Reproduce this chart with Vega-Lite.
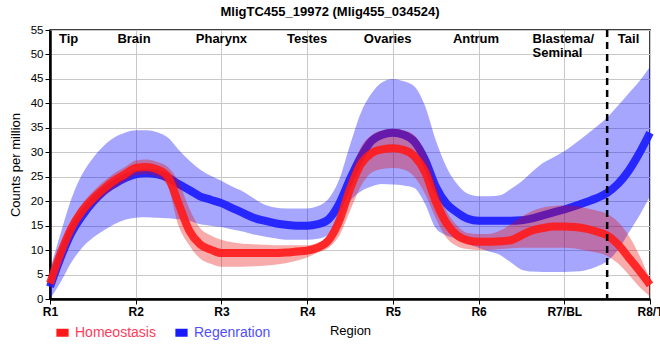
{
  "$schema": "https://vega.github.io/schema/vega-lite/v6.json",
  "width": 600,
  "height": 269,
  "autosize": "none",
  "padding": {"left": 50, "top": 30, "right": 10, "bottom": 61},
  "background": "white",
  "config": {
    "font": "Liberation Sans",
    "view": {"stroke": "black", "strokeWidth": 1.5},
    "axis": {"gridColor": "#c8c8c8", "gridWidth": 1, "domainColor": "black", "domainWidth": 2.5, "tickColor": "black", "labelColor": "black", "titleColor": "black", "titleFontSize": 13, "titleFontWeight": "normal", "tickSize": 5},
    "axisY": {"tickCount": 11, "labelFontSize": 11.5, "titlePadding": 8},
    "axisX": {"labelFontSize": 12, "labelFontWeight": "bold", "titlePadding": 7, "labelPadding": 2},
    "legend": {"labelFontSize": 14}
  },
  "title": {"text": "MligTC455_19972 (Mlig455_034524)", "fontSize": 13, "fontWeight": "bold", "color": "black", "dx": -20, "offset": 5},
  "datasets": {
    "curves": [
      {"pos": 1.0, "group": "Regenration", "mean": 2.5, "lo": 0, "hi": 6},
      {"pos": 1.125, "group": "Regenration", "mean": 8.5, "lo": 3.5, "hi": 13.5},
      {"pos": 1.25, "group": "Regenration", "mean": 13.5, "lo": 7.5, "hi": 20.5},
      {"pos": 1.375, "group": "Regenration", "mean": 17, "lo": 10.5, "hi": 25.5},
      {"pos": 1.5, "group": "Regenration", "mean": 19.8, "lo": 12.5, "hi": 28.8},
      {"pos": 1.625, "group": "Regenration", "mean": 22, "lo": 14, "hi": 31.3},
      {"pos": 1.75, "group": "Regenration", "mean": 23.5, "lo": 15.3, "hi": 33},
      {"pos": 1.875, "group": "Regenration", "mean": 24.7, "lo": 16.2, "hi": 34},
      {"pos": 2.0, "group": "Regenration", "mean": 25.5, "lo": 16.6, "hi": 34.5},
      {"pos": 2.125, "group": "Regenration", "mean": 25.7, "lo": 16.7, "hi": 34.5},
      {"pos": 2.25, "group": "Regenration", "mean": 25.5, "lo": 16.6, "hi": 34.1},
      {"pos": 2.375, "group": "Regenration", "mean": 24.8, "lo": 16.5, "hi": 33},
      {"pos": 2.5, "group": "Regenration", "mean": 23.5, "lo": 16.3, "hi": 30.5},
      {"pos": 2.625, "group": "Regenration", "mean": 22.3, "lo": 16, "hi": 28.3},
      {"pos": 2.75, "group": "Regenration", "mean": 21, "lo": 15.3, "hi": 26.5},
      {"pos": 2.875, "group": "Regenration", "mean": 20.3, "lo": 15, "hi": 25.2},
      {"pos": 3.0, "group": "Regenration", "mean": 19.6, "lo": 14.7, "hi": 24.2},
      {"pos": 3.125, "group": "Regenration", "mean": 18.6, "lo": 14.2, "hi": 23},
      {"pos": 3.25, "group": "Regenration", "mean": 17.6, "lo": 13.8, "hi": 22},
      {"pos": 3.375, "group": "Regenration", "mean": 16.6, "lo": 13.2, "hi": 20.6},
      {"pos": 3.5, "group": "Regenration", "mean": 16, "lo": 12.8, "hi": 19.3},
      {"pos": 3.625, "group": "Regenration", "mean": 15.5, "lo": 12.4, "hi": 18.7},
      {"pos": 3.75, "group": "Regenration", "mean": 15.2, "lo": 12.1, "hi": 18.5},
      {"pos": 3.875, "group": "Regenration", "mean": 15, "lo": 12.1, "hi": 18.5},
      {"pos": 4.0, "group": "Regenration", "mean": 15, "lo": 12.1, "hi": 18.5},
      {"pos": 4.125, "group": "Regenration", "mean": 15.3, "lo": 12.3, "hi": 19},
      {"pos": 4.25, "group": "Regenration", "mean": 16.3, "lo": 13.2, "hi": 20.5},
      {"pos": 4.375, "group": "Regenration", "mean": 19.5, "lo": 16, "hi": 24.5},
      {"pos": 4.5, "group": "Regenration", "mean": 24.5, "lo": 20, "hi": 31.5},
      {"pos": 4.625, "group": "Regenration", "mean": 29, "lo": 22, "hi": 38},
      {"pos": 4.75, "group": "Regenration", "mean": 32.3, "lo": 23, "hi": 42},
      {"pos": 4.875, "group": "Regenration", "mean": 33.6, "lo": 23.5, "hi": 44.3},
      {"pos": 5.0, "group": "Regenration", "mean": 34, "lo": 23.4, "hi": 45},
      {"pos": 5.125, "group": "Regenration", "mean": 33.6, "lo": 23.2, "hi": 44.5},
      {"pos": 5.25, "group": "Regenration", "mean": 32.2, "lo": 22.7, "hi": 43.5},
      {"pos": 5.375, "group": "Regenration", "mean": 28.5, "lo": 19.5, "hi": 39.5},
      {"pos": 5.5, "group": "Regenration", "mean": 23, "lo": 14.5, "hi": 32.5},
      {"pos": 5.625, "group": "Regenration", "mean": 19.5, "lo": 13, "hi": 27},
      {"pos": 5.75, "group": "Regenration", "mean": 17.7, "lo": 12.3, "hi": 23.5},
      {"pos": 5.875, "group": "Regenration", "mean": 16.4, "lo": 11.3, "hi": 21.5},
      {"pos": 6.0, "group": "Regenration", "mean": 16, "lo": 10.5, "hi": 21},
      {"pos": 6.125, "group": "Regenration", "mean": 16, "lo": 9.7, "hi": 21},
      {"pos": 6.25, "group": "Regenration", "mean": 16, "lo": 9, "hi": 21.2},
      {"pos": 6.375, "group": "Regenration", "mean": 16, "lo": 7.5, "hi": 22.5},
      {"pos": 6.5, "group": "Regenration", "mean": 16.1, "lo": 6, "hi": 24},
      {"pos": 6.625, "group": "Regenration", "mean": 16.5, "lo": 5.6, "hi": 26},
      {"pos": 6.75, "group": "Regenration", "mean": 17.1, "lo": 5.5, "hi": 27.8},
      {"pos": 6.875, "group": "Regenration", "mean": 17.7, "lo": 5.5, "hi": 29},
      {"pos": 7.0, "group": "Regenration", "mean": 18.3, "lo": 5.5, "hi": 30.2},
      {"pos": 7.125, "group": "Regenration", "mean": 19, "lo": 5.6, "hi": 31.8},
      {"pos": 7.25, "group": "Regenration", "mean": 19.8, "lo": 5.9, "hi": 33.5},
      {"pos": 7.375, "group": "Regenration", "mean": 20.6, "lo": 6.6, "hi": 35.2},
      {"pos": 7.5, "group": "Regenration", "mean": 21.7, "lo": 7.7, "hi": 37.1},
      {"pos": 7.625, "group": "Regenration", "mean": 23.5, "lo": 10, "hi": 39.5},
      {"pos": 7.75, "group": "Regenration", "mean": 26.2, "lo": 13.5, "hi": 42},
      {"pos": 7.875, "group": "Regenration", "mean": 29.8, "lo": 17, "hi": 44.5},
      {"pos": 8.0, "group": "Regenration", "mean": 34, "lo": 21, "hi": 47.5},
      {"pos": 1.0, "group": "Homeostasis", "mean": 3.2, "lo": 2, "hi": 4.5},
      {"pos": 1.125, "group": "Homeostasis", "mean": 9.4, "lo": 8, "hi": 11},
      {"pos": 1.25, "group": "Homeostasis", "mean": 14.5, "lo": 13, "hi": 16},
      {"pos": 1.375, "group": "Homeostasis", "mean": 18, "lo": 16.5, "hi": 19.5},
      {"pos": 1.5, "group": "Homeostasis", "mean": 20.5, "lo": 19, "hi": 22},
      {"pos": 1.625, "group": "Homeostasis", "mean": 22.5, "lo": 21, "hi": 24},
      {"pos": 1.75, "group": "Homeostasis", "mean": 24.2, "lo": 22.7, "hi": 25.7},
      {"pos": 1.875, "group": "Homeostasis", "mean": 25.5, "lo": 24, "hi": 27},
      {"pos": 2.0, "group": "Homeostasis", "mean": 26.8, "lo": 25.3, "hi": 28.3},
      {"pos": 2.125, "group": "Homeostasis", "mean": 27, "lo": 25.5, "hi": 28.5},
      {"pos": 2.25, "group": "Homeostasis", "mean": 26.5, "lo": 25, "hi": 28},
      {"pos": 2.375, "group": "Homeostasis", "mean": 25, "lo": 23, "hi": 27},
      {"pos": 2.5, "group": "Homeostasis", "mean": 19.5, "lo": 15, "hi": 24},
      {"pos": 2.625, "group": "Homeostasis", "mean": 14, "lo": 11, "hi": 18.5},
      {"pos": 2.75, "group": "Homeostasis", "mean": 11.2, "lo": 8.3, "hi": 14.5},
      {"pos": 2.875, "group": "Homeostasis", "mean": 10.1, "lo": 7.2, "hi": 13},
      {"pos": 3.0, "group": "Homeostasis", "mean": 9.4, "lo": 6.6, "hi": 12.1},
      {"pos": 3.125, "group": "Homeostasis", "mean": 9.4, "lo": 6.6, "hi": 11.6},
      {"pos": 3.25, "group": "Homeostasis", "mean": 9.4, "lo": 6.6, "hi": 11.3},
      {"pos": 3.375, "group": "Homeostasis", "mean": 9.4, "lo": 6.7, "hi": 11.2},
      {"pos": 3.5, "group": "Homeostasis", "mean": 9.4, "lo": 6.8, "hi": 11.1},
      {"pos": 3.625, "group": "Homeostasis", "mean": 9.4, "lo": 7, "hi": 11},
      {"pos": 3.75, "group": "Homeostasis", "mean": 9.5, "lo": 7.3, "hi": 11},
      {"pos": 3.875, "group": "Homeostasis", "mean": 9.7, "lo": 7.8, "hi": 11},
      {"pos": 4.0, "group": "Homeostasis", "mean": 9.9, "lo": 8.5, "hi": 11},
      {"pos": 4.125, "group": "Homeostasis", "mean": 10.5, "lo": 9.5, "hi": 11.5},
      {"pos": 4.25, "group": "Homeostasis", "mean": 12, "lo": 10.5, "hi": 13},
      {"pos": 4.375, "group": "Homeostasis", "mean": 16, "lo": 13, "hi": 17.5},
      {"pos": 4.5, "group": "Homeostasis", "mean": 22.5, "lo": 18, "hi": 25},
      {"pos": 4.625, "group": "Homeostasis", "mean": 27.5, "lo": 23, "hi": 31},
      {"pos": 4.75, "group": "Homeostasis", "mean": 29.8, "lo": 25.8, "hi": 33.5},
      {"pos": 4.875, "group": "Homeostasis", "mean": 30.6, "lo": 26.6, "hi": 34.5},
      {"pos": 5.0, "group": "Homeostasis", "mean": 30.8, "lo": 26.8, "hi": 34.8},
      {"pos": 5.125, "group": "Homeostasis", "mean": 30.5, "lo": 26.5, "hi": 34.5},
      {"pos": 5.25, "group": "Homeostasis", "mean": 29.2, "lo": 25, "hi": 33.5},
      {"pos": 5.375, "group": "Homeostasis", "mean": 26, "lo": 21.5, "hi": 30},
      {"pos": 5.5, "group": "Homeostasis", "mean": 20, "lo": 16.5, "hi": 23.5},
      {"pos": 5.625, "group": "Homeostasis", "mean": 15.5, "lo": 12.5, "hi": 18},
      {"pos": 5.75, "group": "Homeostasis", "mean": 13, "lo": 10.8, "hi": 15},
      {"pos": 5.875, "group": "Homeostasis", "mean": 12, "lo": 10.2, "hi": 13.5},
      {"pos": 6.0, "group": "Homeostasis", "mean": 11.7, "lo": 10, "hi": 13.3},
      {"pos": 6.125, "group": "Homeostasis", "mean": 11.7, "lo": 10, "hi": 13.3},
      {"pos": 6.25, "group": "Homeostasis", "mean": 11.8, "lo": 10.2, "hi": 14},
      {"pos": 6.375, "group": "Homeostasis", "mean": 12, "lo": 10.4, "hi": 15.3},
      {"pos": 6.5, "group": "Homeostasis", "mean": 13, "lo": 10.5, "hi": 16.8},
      {"pos": 6.625, "group": "Homeostasis", "mean": 14, "lo": 10.5, "hi": 18},
      {"pos": 6.75, "group": "Homeostasis", "mean": 14.5, "lo": 10.5, "hi": 18.7},
      {"pos": 6.875, "group": "Homeostasis", "mean": 14.8, "lo": 10.5, "hi": 19},
      {"pos": 7.0, "group": "Homeostasis", "mean": 14.8, "lo": 10.5, "hi": 19.1},
      {"pos": 7.125, "group": "Homeostasis", "mean": 14.7, "lo": 10.3, "hi": 19},
      {"pos": 7.25, "group": "Homeostasis", "mean": 14.4, "lo": 9.9, "hi": 18.6},
      {"pos": 7.375, "group": "Homeostasis", "mean": 13.8, "lo": 9.5, "hi": 18.1},
      {"pos": 7.5, "group": "Homeostasis", "mean": 13, "lo": 8.8, "hi": 17.4},
      {"pos": 7.625, "group": "Homeostasis", "mean": 11.2, "lo": 7.3, "hi": 15.8},
      {"pos": 7.75, "group": "Homeostasis", "mean": 8.5, "lo": 5, "hi": 13},
      {"pos": 7.875, "group": "Homeostasis", "mean": 5.8, "lo": 2.5, "hi": 9},
      {"pos": 8.0, "group": "Homeostasis", "mean": 2.9, "lo": 0.5, "hi": 4}
    ],
    "labels": [
      {"pos": 1.105, "y": 54.4, "text": "Tip", "align": "left"},
      {"pos": 1.98, "y": 54.4, "text": "Brain", "align": "center"},
      {"pos": 3.0, "y": 54.4, "text": "Pharynx", "align": "center"},
      {"pos": 4.0, "y": 54.4, "text": "Testes", "align": "center"},
      {"pos": 4.94, "y": 54.4, "text": "Ovaries", "align": "center"},
      {"pos": 5.97, "y": 54.4, "text": "Antrum", "align": "center"},
      {"pos": 6.63, "y": 54.4, "text": "Blastema/", "align": "left"},
      {"pos": 6.63, "y": 51.5, "text": "Seminal", "align": "left"},
      {"pos": 7.75, "y": 54.4, "text": "Tail", "align": "center"}
    ],
    "divider": [{"pos": 7.5}]
  },
  "encoding": {
    "x": {
      "field": "pos", "type": "quantitative",
      "scale": {"domain": [1, 8], "nice": false},
      "axis": {"values": [1, 2, 3, 4, 5, 6, 7, 8], "labelExpr": "['R1','R2','R3','R4','R5','R6','R7/BL','R8/T'][datum.value - 1]", "title": "Region", "labelFlush": false, "labelOverlap": false}
    }
  },
  "layer": [
    {
      "data": {"name": "curves"},
      "transform": [{"filter": "datum.group === 'Regenration'"}],
      "mark": {"type": "area", "color": "#0000ff", "opacity": 0.35, "interpolate": "monotone"},
      "encoding": {
        "y": {"field": "lo", "type": "quantitative", "scale": {"domain": [0, 55], "nice": false}, "title": "Counts per million"},
        "y2": {"field": "hi"}
      }
    },
    {
      "data": {"name": "curves"},
      "transform": [{"filter": "datum.group === 'Regenration'"}],
      "mark": {"type": "line", "strokeWidth": 8, "interpolate": "monotone", "opacity": 0.9},
      "encoding": {
        "y": {"field": "mean", "type": "quantitative", "title": "Counts per million"},
        "color": {"field": "group", "type": "nominal", "scale": {"domain": ["Homeostasis", "Regenration"], "range": ["#ff1a1a", "#1a1aff"]},
          "legend": {"title": null, "orient": "none", "legendX": 2, "legendY": 292, "direction": "horizontal", "columns": 2, "symbolType": "stroke", "symbolSize": 150, "symbolStrokeWidth": 8, "symbolOpacity": 1, "labelFontSize": 14, "labelOffset": 2, "columnPadding": 3,
            "labelColor": {"expr": "datum.value === 'Homeostasis' ? '#ff3b5c' : '#4f4fff'"}}}
      }
    },
    {
      "data": {"name": "curves"},
      "transform": [{"filter": "datum.group === 'Homeostasis'"}],
      "mark": {"type": "area", "color": "#e60000", "opacity": 0.33, "interpolate": "monotone"},
      "encoding": {
        "y": {"field": "lo", "type": "quantitative", "title": "Counts per million"},
        "y2": {"field": "hi"}
      }
    },
    {
      "data": {"name": "curves"},
      "transform": [{"filter": "datum.group === 'Homeostasis'"}],
      "mark": {"type": "line", "strokeWidth": 8, "interpolate": "monotone", "opacity": 0.9},
      "encoding": {
        "y": {"field": "mean", "type": "quantitative", "title": "Counts per million"},
        "color": {"field": "group", "type": "nominal",
          "legend": {"title": null, "orient": "none", "legendX": 2, "legendY": 292, "direction": "horizontal", "columns": 2, "symbolType": "stroke", "symbolSize": 150, "symbolStrokeWidth": 8, "symbolOpacity": 1, "labelFontSize": 14, "labelOffset": 2, "columnPadding": 3,
            "labelColor": {"expr": "datum.value === 'Homeostasis' ? '#ff3b5c' : '#4f4fff'"}}}
      }
    },
    {
      "data": {"name": "divider"},
      "mark": {"type": "rule", "color": "black", "strokeWidth": 2.5, "strokeDash": [7, 5]},
      "encoding": {}
    },
    {
      "data": {"name": "labels"},
      "transform": [{"filter": "datum.align === 'left'"}],
      "mark": {"type": "text", "fontSize": 13, "fontWeight": "bold", "baseline": "top", "align": "left", "color": "black"},
      "encoding": {
        "y": {"field": "y", "type": "quantitative", "title": "Counts per million"},
        "text": {"field": "text"}
      }
    },
    {
      "data": {"name": "labels"},
      "transform": [{"filter": "datum.align === 'center'"}],
      "mark": {"type": "text", "fontSize": 13, "fontWeight": "bold", "baseline": "top", "align": "center", "color": "black"},
      "encoding": {
        "y": {"field": "y", "type": "quantitative", "title": "Counts per million"},
        "text": {"field": "text"}
      }
    }
  ]
}
